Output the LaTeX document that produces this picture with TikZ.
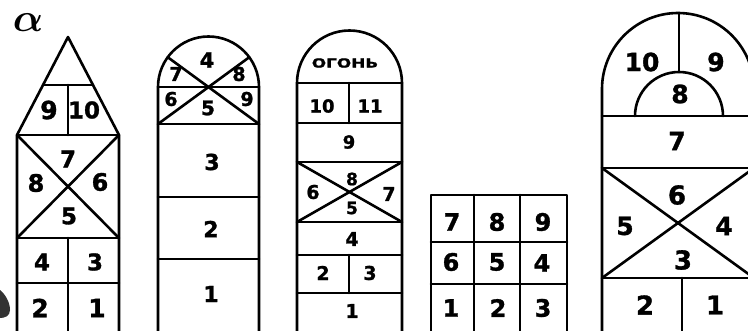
\documentclass[tikz,border=0pt]{standalone}
\usepackage{fontspec}
\usepackage{bm}
\usepackage{graphicx}
\newfontfamily\numfont{DejaVu Sans}[BoldFeatures={FakeBold=1.2}]
\begin{document}
\begin{tikzpicture}[x=1pt,y=1pt,
  ln/.style={line width=2.6pt, line join=round, line cap=round},
  lbl/.style={font=\numfont\bfseries\fontsize{#1}{#1}\selectfont, inner sep=0pt, anchor=center}]
\useasboundingbox (0,0) rectangle (748,330);
\clip (0,0) rectangle (748,330);
% alpha and blob
\node[inner sep=0pt] (alpha) at (28,307) {\scalebox{4}{$\bm{\alpha}$}};
\fill[black!80] (0,40) .. controls (5,36) and (10,28) .. (10,20) .. controls (10,14) and (5,12) .. (0,12) -- cycle;

% ---------- figure 1 (house)
\draw[ln] (17,-3) -- (17,195) -- (68,293) -- (119,195) -- (119,-3);
\draw[ln] (43,245) -- (93,245);
\draw[ln] (68,245) -- (68,195);
\draw[ln] (17,195) -- (119,195);
\draw[ln] (17,92) -- (119,92);
\draw[ln] (17,47) -- (119,47);
\draw[ln] (17,195) -- (119,92);
\draw[ln] (17,92) -- (119,195);
\draw[ln] (68,92) -- (68,-3);
\node[lbl=25] (a9) at (49,220) {9};
\node[lbl=23] (a10) at (84,220) {10};
\node[lbl=23] (a7) at (68,171) {7};
\node[lbl=24] (a8) at (36,147) {8};
\node[lbl=24] (a6) at (100,148) {6};
\node[lbl=23] (a5) at (69,114) {5};
\node[lbl=23] (a4) at (42,68) {4};
\node[lbl=23] (a3) at (95,68) {3};
\node[lbl=25] (a2) at (40,22) {2};
\node[lbl=25] (a1) at (97,22) {1};

% ---------- figure 2
\draw[ln] (158,-3) -- (158,243) arc[start angle=180,end angle=0,radius=50.5] -- (259,-3);
\draw[ln] (158,243) -- (259,243);
\draw[ln] (158,206) -- (259,206);
\draw[ln] (158,133) -- (259,133);
\draw[ln] (158,71) -- (259,71);
\draw[ln] (158,206) -- (249.3,272.8);
\draw[ln] (259,206) -- (167.7,272.8);
\node[lbl=21] (b4) at (207,270) {4};
\node[lbl=19] (b7) at (176,256) {7};
\node[lbl=19] (b8) at (239,256) {8};
\node[lbl=19] (b6) at (171,231) {6};
\node[lbl=20] (b5) at (208,222) {5};
\node[lbl=19] (b9) at (247,231) {9};
\node[lbl=22] (b3) at (212,168) {3};
\node[lbl=22] (b2) at (211,101) {2};
\node[lbl=22] (b1) at (211,36) {1};

% ---------- figure 3
\draw[ln] (297,-3) -- (297,247) arc[start angle=180,end angle=0,radius=52.5] -- (402,-3);
\draw[ln] (297,247) -- (402,247);
\draw[ln] (297,207) -- (402,207);
\draw[ln] (297,168) -- (402,168);
\draw[ln] (297,108) -- (402,108);
\draw[ln] (297,75) -- (402,75);
\draw[ln] (297,37) -- (402,37);
\draw[ln] (349,247) -- (349,207);
\draw[ln] (349,75) -- (349,37);
\draw[ln] (297,168) -- (402,108);
\draw[ln] (297,108) -- (402,168);
\node[inner sep=0pt] (ogon) at (345,267) {\scalebox{1.35}[1]{\numfont\bfseries\fontsize{12.5}{12.5}\selectfont ОГОНЬ}};
\node[lbl=18] (c10) at (322,224) {10};
\node[lbl=18] (c11) at (370,224) {11};
\node[lbl=18] (c9) at (349,188) {9};
\node[lbl=17] (c8) at (352,151) {8};
\node[lbl=19] (c6) at (313,138) {6};
\node[lbl=19] (c7) at (389,136) {7};
\node[lbl=17] (c5) at (352,122) {5};
\node[lbl=19] (c4) at (352,91) {4};
\node[lbl=19] (c2) at (323,57) {2};
\node[lbl=19] (c3) at (370,57) {3};
\node[lbl=19] (c1) at (352,19) {1};

% ---------- figure 4
\draw[ln] (431,-3) -- (431,135) -- (567,135) -- (567,-3);
\draw[ln] (431,88) -- (567,88);
\draw[ln] (431,46) -- (567,46);
\draw[ln] (474,135) -- (474,-3);
\draw[ln] (520,135) -- (520,-3);
\node[lbl=24] (d7) at (452,108) {7};
\node[lbl=24] (d8) at (497,108) {8};
\node[lbl=24] (d9) at (543,108) {9};
\node[lbl=24] (d6) at (451,68) {6};
\node[lbl=24] (d5) at (497,68) {5};
\node[lbl=24] (d4) at (542,67) {4};
\node[lbl=24] (d1) at (451,22) {1};
\node[lbl=24] (d2) at (498,22) {2};
\node[lbl=24] (d3) at (543,22) {3};

% ---------- figure 5
\draw[ln] (602,-3) -- (602,241) arc[start angle=180,end angle=0,radius=76] -- (754,-3);
\draw[ln] (602,214) -- (754,214);
\draw[ln] (635,214) arc[start angle=180,end angle=0,radius=44];
\draw[ln] (679,317) -- (679,258);
\draw[ln] (602,162) -- (754,162);
\draw[ln] (602,52) -- (754,52);
\draw[ln] (602,162) -- (754,52);
\draw[ln] (602,52) -- (754,162);
\draw[ln] (682,52) -- (682,-3);
\node[lbl=25] (e10) at (642,268) {10};
\node[lbl=25] (e9) at (716,268) {9};
\node[lbl=25] (e8) at (680,236) {8};
\node[lbl=25] (e7) at (677,189) {7};
\node[lbl=26] (e6) at (677,135) {6};
\node[lbl=25] (e5) at (625,104) {5};
\node[lbl=25] (e4) at (724,104) {4};
\node[lbl=26] (e3) at (683,70) {3};
\node[lbl=26] (e2) at (645,25) {2};
\node[lbl=26] (e1) at (715,25) {1};
\end{tikzpicture}
\end{document}
